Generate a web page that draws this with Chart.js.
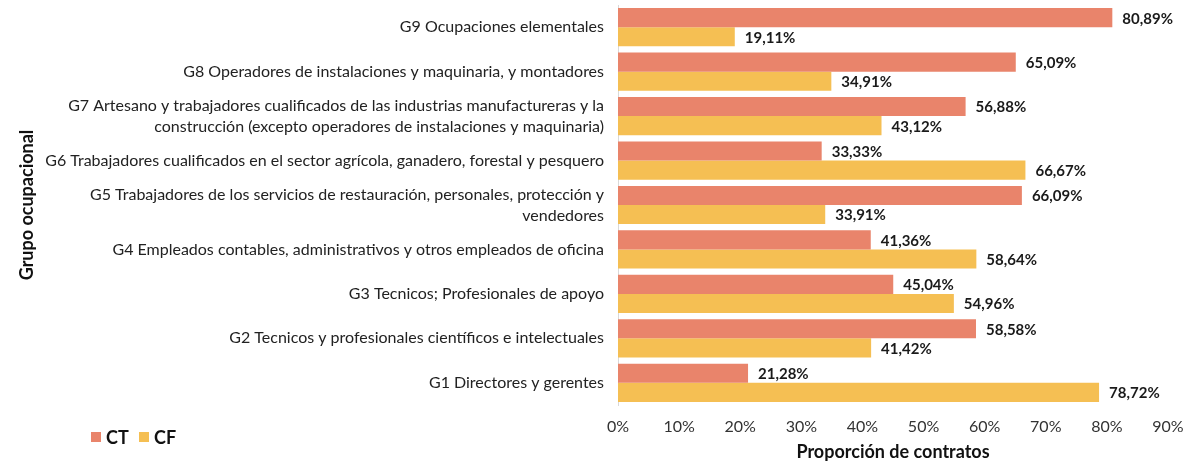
<!DOCTYPE html>
<html>
<head>
<meta charset="utf-8">
<script src="https://cdn.jsdelivr.net/npm/chart.js@4"></script>
<style>
  html, body { margin: 0; padding: 0; background: #fff; }
  #wrap { width: 1183px; height: 465px; position: relative; }
</style>
</head>
<body>
<div id="wrap"><canvas id="myChart"></canvas></div>
<script>
const categories = [
  'G9 Ocupaciones elementales',
  'G8 Operadores de instalaciones y maquinaria, y montadores',
  ['G7 Artesano y trabajadores cualificados de las industrias manufactureras y la', 'construcción (excepto operadores de instalaciones y maquinaria)'],
  'G6 Trabajadores cualificados en el sector agrícola, ganadero, forestal y pesquero',
  ['G5 Trabajadores de los servicios de restauración, personales, protección y', 'vendedores'],
  'G4 Empleados contables, administrativos y otros empleados de oficina',
  'G3 Tecnicos; Profesionales de apoyo',
  'G2 Tecnicos y profesionales científicos e intelectuales',
  'G1 Directores y gerentes'
];
const ctValues = [80.89, 65.09, 56.88, 33.33, 66.09, 41.36, 45.04, 58.58, 21.28];
const cfValues = [19.11, 34.91, 43.12, 66.67, 33.91, 58.64, 54.96, 41.42, 78.72];
const seriesNames = ['CT', 'CF'];
const seriesColors = ['#E9846B', '#F5BF53'];

const fontFam = 'Lato, "Open Sans", sans-serif';

// etiquetas de valor al final de cada barra
const valueLabels = {
  id: 'valueLabels',
  afterDatasetsDraw(chart) {
    const ctx = chart.ctx;
    ctx.save();
    ctx.font = 'bold 15px ' + fontFam;
    ctx.fillStyle = '#1a1a1a';
    ctx.textBaseline = 'middle';
    ctx.textAlign = 'left';
    chart.data.datasets.forEach((ds, i) => {
      chart.getDatasetMeta(i).data.forEach((bar, j) => {
        const txt = ds.data[j].toFixed(2).replace('.', ',') + '%';
        ctx.fillText(txt, bar.x + 10, bar.y + 1);
      });
    });
    ctx.restore();
  }
};

// leyenda abajo a la izquierda
const customLegend = {
  id: 'customLegend',
  afterDraw(chart) {
    const ctx = chart.ctx;
    ctx.save();
    ctx.font = 'bold 18px ' + fontFam;
    ctx.textBaseline = 'middle';
    let x = 91;
    const y = 437;
    seriesNames.forEach((name, i) => {
      ctx.fillStyle = seriesColors[i];
      ctx.fillRect(x, y - 5, 10, 10);
      ctx.fillStyle = '#111';
      ctx.fillText(name, x + 15, y + 1);
      x += 48;
    });
    ctx.restore();
  }
};

const myChart = new Chart(document.getElementById('myChart'), {
  type: 'bar',
  data: {
    labels: categories,
    datasets: seriesNames.map((name, i) => ({
      label: name,
      data: i === 0 ? ctValues : cfValues,
      backgroundColor: seriesColors[i],
      borderWidth: 0,
      categoryPercentage: 0.86,
      barPercentage: 1
    }))
  },
  options: {
    indexAxis: 'y',
    responsive: true,
    maintainAspectRatio: false,
    animation: false,
    layout: { padding: { top: 5, right: 15, left: 0, bottom: 0 } },
    plugins: {
      legend: { display: false },
      tooltip: { enabled: false }
    },
    scales: {
      x: {
        min: 0,
        max: 90,
        ticks: {
          stepSize: 10,
          padding: 12,
          color: '#333',
          font: { family: fontFam, size: 16 },
          callback: (v) => v + '%'
        },
        grid: { display: false, drawTicks: false },
        border: { display: false },
        title: {
          display: true,
          text: 'Proporción de contratos',
          color: '#111',
          font: { family: fontFam, size: 18, weight: 'bold' },
          padding: { top: 0, bottom: 2 }
        },
        afterFit: (s) => {
          s.height = 60;
          s.paddingLeft = 0;
          s.paddingRight = 0;
        }
      },
      y: {
        ticks: {
          padding: 14,
          color: '#222',
          font: { family: fontFam, size: 16, lineHeight: 1.3 },
          autoSkip: false
        },
        grid: { display: false, drawTicks: false },
        border: { display: true, color: '#d9d9d9', width: 1 },
        title: {
          display: true,
          text: 'Grupo ocupacional',
          color: '#111',
          font: { family: fontFam, size: 18, weight: 'bold' },
          padding: { top: 16, bottom: 0 }
        },
        afterFit: (s) => {
          s.width = 618;
          s.paddingTop = 0;
          s.paddingBottom = 0;
        }
      }
    }
  },
  plugins: [valueLabels, customLegend]
});
</script>
</body>
</html>
